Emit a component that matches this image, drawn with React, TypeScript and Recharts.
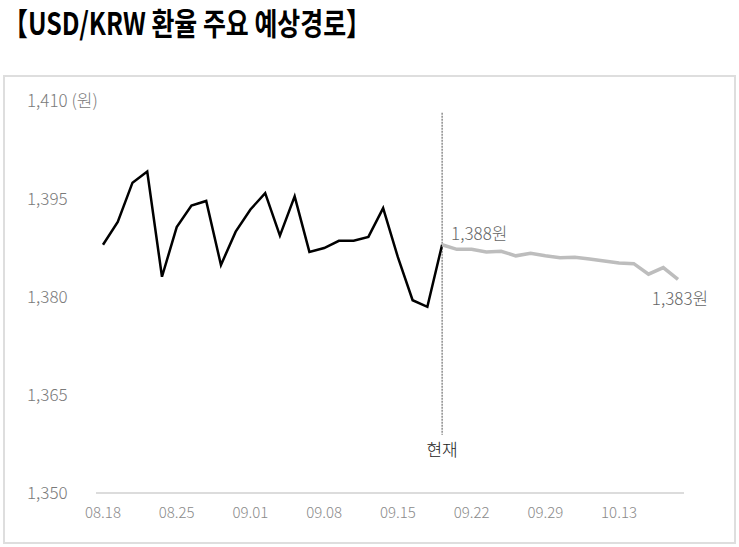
import React from "react";
import { LineChart, Line, XAxis, YAxis, ReferenceLine, LabelList } from "recharts";

const dates = [
  "08.18", "08.19", "08.20", "08.21", "08.22",
  "08.25", "08.26", "08.27", "08.28", "08.29",
  "09.01", "09.02", "09.03", "09.04", "09.05",
  "09.08", "09.09", "09.10", "09.11", "09.12",
  "09.15", "09.16", "09.17", "09.18", "09.19",
  "09.22", "09.23", "09.24", "09.25", "09.26",
  "09.29", "09.30", "10.01", "10.02", "10.10",
  "10.13", "10.14", "10.15", "10.16", "10.17",
];

// actual rate up to today (09.18)
const actual = [
  1388.0, 1391.5, 1397.5, 1399.2, 1383.1, 1390.7, 1394.0, 1394.7, 1384.9, 1390.0,
  1393.4, 1395.9, 1389.4, 1395.4, 1386.9, 1387.5, 1388.6, 1388.6, 1389.2, 1393.6,
  1386.1, 1379.5, 1378.5, 1388.0,
];

// expected path from today
const forecast = [
  1388.0, 1387.3, 1387.3, 1386.9, 1387.0, 1386.3, 1386.7, 1386.3, 1386.0, 1386.1,
  1385.8, 1385.5, 1385.2, 1385.1, 1383.5, 1384.5, 1382.7,
];

const yTicks = [1350, 1365, 1380, 1395, 1410];
const xTicks = ["08.18", "08.25", "09.01", "09.08", "09.15", "09.22", "09.29", "10.13"];
const today = "09.18";
const forecastLabels = ["1,388원", "1,383원"];

const todayIdx = dates.indexOf(today);
const data = dates.map((d, i) => ({
  date: d,
  actual: i < actual.length ? actual[i] : null,
  forecast: i >= todayIdx && i - todayIdx < forecast.length ? forecast[i - todayIdx] : null,
}));

const FONT = "'Noto Sans CJK KR', 'Noto Sans', sans-serif";

const YTick = (props: any) => {
  const v = props.payload.value;
  const txt = v.toLocaleString("en-US") + (v === 1410 ? " (원)" : "");
  return (
    <text x={27} y={props.y - 2} dominantBaseline="central" textAnchor="start"
      fill="#7a7a7a" fontSize={17} fontWeight={300} fontFamily={FONT}>
      {txt}
    </text>
  );
};

const XTick = (props: any) => (
  <text x={props.x} y={props.y} dy={10} dominantBaseline="central" textAnchor="middle"
    fill="#8a8a8a" fontSize={15} fontWeight={300} fontFamily={FONT}>
    {props.payload.value}
  </text>
);

const EndLabel = (props: any) => {
  const { x, y, index } = props;
  if (index === todayIdx) {
    return (
      <text x={x + 9} y={y - 12} dominantBaseline="central" fill="#666" fontSize={17}
        fontWeight={300} fontFamily={FONT}>
        {forecastLabels[0]}
      </text>
    );
  }
  if (index === todayIdx + forecast.length - 1) {
    return (
      <text x={x + 2} y={y + 18} dominantBaseline="central" textAnchor="middle" fill="#666"
        fontSize={17} fontWeight={300} fontFamily={FONT}>
        {forecastLabels[1]}
      </text>
    );
  }
  return null;
};

const NowLabel = (props: any) => {
  const vb = props.viewBox || {};
  return (
    <text x={vb.x} y={(vb.y || 0) + (vb.height || 0) + 14} dominantBaseline="central"
      textAnchor="middle" fill="#222" fontSize={17} fontWeight={300} fontFamily={FONT}>
      현재
    </text>
  );
};

export default function App() {
  return (
    <div style={{ position: "fixed", left: 0, top: 0, width: 739, height: 547, background: "#fff" }}>
      {/* title, squeezed to the narrow gothic of the original */}
      <svg width={739} height={50} style={{ position: "absolute", left: 0, top: 0 }}>
        <text x={3} y={35} fontFamily={FONT} fontWeight={700} fontSize={31} fill="#000"
          textLength={368} lengthAdjust="spacingAndGlyphs">
          【USD/KRW 환율 주요 예상경로】
        </text>
      </svg>
      <div style={{ position: "absolute", left: 0, top: 0 }}>
        <LineChart width={739} height={547} data={data}
          margin={{ top: 101, right: 55, left: 0, bottom: 24 }}>
          <XAxis dataKey="date" ticks={xTicks} interval={0} tick={<XTick />} tickLine={false}
            axisLine={{ stroke: "#dcdcdc", strokeWidth: 2 }} height={30}
            padding={{ left: 7, right: 6 }} />
          <YAxis domain={[1350, 1410]} ticks={yTicks} tick={<YTick />} axisLine={false}
            tickLine={false} width={96} />
          <ReferenceLine segment={[{ x: today, y: 1408.2 }, { x: today, y: 1358.9 }]}
            stroke="#555" strokeWidth={1} strokeDasharray="2 1" ifOverflow="visible"
            label={<NowLabel />} />
          <Line type="linear" dataKey="actual" stroke="#000" strokeWidth={2.5} dot={false}
            isAnimationActive={false} connectNulls={false} />
          <Line type="linear" dataKey="forecast" stroke="#bdbdbd" strokeWidth={3.5} dot={false}
            isAnimationActive={false} connectNulls={false}>
            <LabelList dataKey="forecast" content={<EndLabel />} />
          </Line>
        </LineChart>
      </div>
      <div style={{
        position: "absolute", left: 3, top: 75, width: 733, height: 469,
        border: "2px solid #dedede", boxSizing: "border-box", pointerEvents: "none",
      }} />
    </div>
  );
}
